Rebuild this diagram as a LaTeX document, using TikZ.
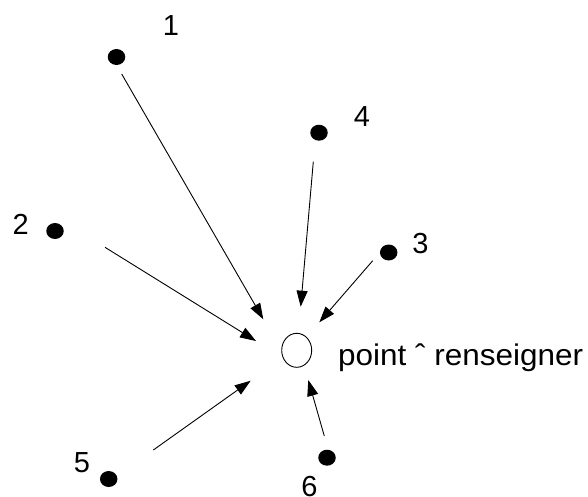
\documentclass[tikz,border=0pt]{standalone}
\usepackage{fontspec}
\setmainfont{Liberation Sans}
\usetikzlibrary{arrows.meta,shapes.geometric}
\begin{document}
\begin{tikzpicture}[x=1pt,y=-1pt,
  dot/.style={ellipse,fill=black,minimum width=17.5pt,minimum height=16pt,inner sep=0pt},
  lbl/.style={font=\fontsize{29}{29}\selectfont,inner sep=0pt},
  arr/.style={line width=0.9pt,-{Triangle[length=16pt,width=11pt]}}]
\useasboundingbox (0,0) rectangle (588,496);
\node[dot] (d1) at (116.5,57) {};
\node[dot] (d2) at (55,231) {};
\node[dot] (d3) at (388.7,252.5) {};
\node[dot] (d4) at (319,132.7) {};
\node[dot] (d5) at (108.7,479) {};
\node[dot] (d6) at (327,457.7) {};
\node[ellipse,draw,line width=0.9pt,minimum width=30pt,minimum height=34pt,inner sep=0pt] (c) at (296.7,350.3) {};
\node[lbl] (l1) at (171,25.5) {1};
\node[lbl] (l2) at (20.8,224) {2};
\node[lbl] (l3) at (420.5,243.5) {3};
\node[lbl] (l4) at (362,117) {4};
\node[lbl] (l5) at (82,462.8) {5};
\node[lbl] (l6) at (309.5,486.5) {6};
\node[lbl,anchor=base west] (t) at (338,365) {\scalebox{1.085}[1.03]{point ˆ renseigner}};
\coordinate (s1) at (121.7,74);   \coordinate (e1) at (263.3,319.3);
\coordinate (s2) at (105,247.3);  \coordinate (e2) at (256,341);
\coordinate (s3) at (372.7,260.7);\coordinate (e3) at (319.3,322.3);
\coordinate (s4) at (313.3,161.7);\coordinate (e4) at (300.7,306.7);
\coordinate (s5) at (153.3,450);  \coordinate (e5) at (250.7,380.7);
\coordinate (s6) at (324.3,436);  \coordinate (e6) at (308.3,380);
\foreach \i in {1,...,6} \draw[arr] (s\i) -- (e\i);
\end{tikzpicture}
\end{document}
